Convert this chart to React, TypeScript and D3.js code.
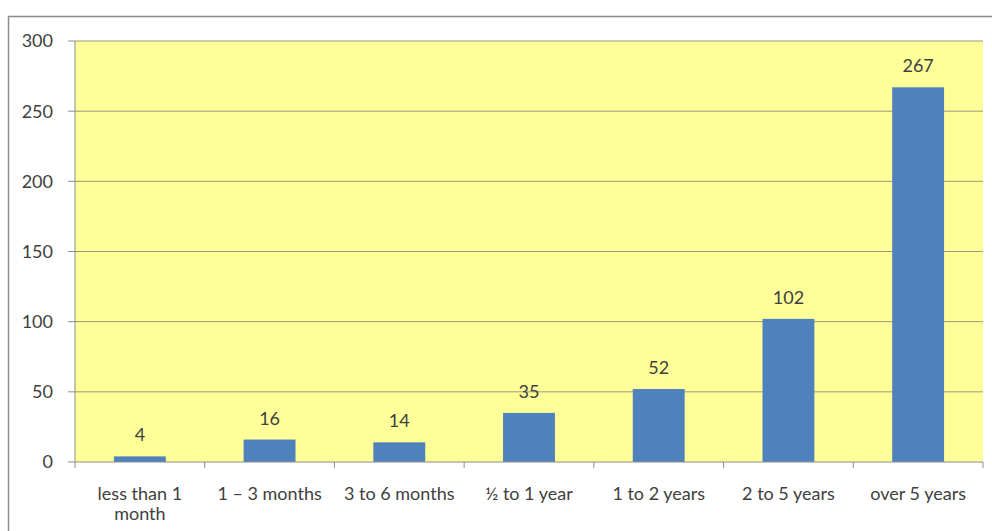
import React from "react";
import * as d3 from "d3";

const categories: string[][] = [
  ["less than 1", "month"],
  ["1 – 3 months"],
  ["3 to 6 months"],
  ["½ to 1 year"],
  ["1 to 2 years"],
  ["2 to 5 years"],
  ["over 5 years"],
];
const values: number[] = [4, 16, 14, 35, 52, 102, 267];
const yTicks: number[] = [0, 50, 100, 150, 200, 250, 300];

const W = 992;
const H = 531;
const plot = { left: 75, right: 983, top: 41, bottom: 462 };
const FONT = "Lato, 'Open Sans', sans-serif";
const TEXT = "#404040";

export default function App() {
  const keys = categories.map((_, i) => String(i));
  const x = d3.scaleBand<string>().domain(keys).range([plot.left, plot.right]).paddingInner(0.6).paddingOuter(0.3);
  const xb = d3.scaleBand<string>().domain(keys).range([plot.left, plot.right]);
  const y = d3.scaleLinear().domain([0, 300]).range([plot.bottom, plot.top]);
  const step = xb.step();

  return (
    <div style={{ position: "absolute", left: 0, top: 0, width: W, height: H, background: "#fff" }}>
      <svg width={W} height={H} style={{ display: "block" }} fontFamily={FONT}>
        <rect x={8.5} y={16.5} width={990} height={520} fill="#fff" stroke="#8c8c8c" strokeWidth={1.5} />
        <rect x={plot.left} y={plot.top} width={plot.right - plot.left} height={plot.bottom - plot.top} fill="#FFFF99" />
        {yTicks.map((t) => (
          <g key={t}>
            {t > 0 && (
              <line x1={plot.left} x2={plot.right} y1={y(t)} y2={y(t)} stroke="#9a9a78" strokeWidth={1} />
            )}
            <line x1={plot.left - 7} x2={plot.left} y1={y(t)} y2={y(t)} stroke="#8c8c8c" strokeWidth={1} />
            <text x={53} y={y(t)} dy="0.36em" textAnchor="end" fontSize={18} fill={TEXT}>
              {t}
            </text>
          </g>
        ))}
        <line x1={plot.left} x2={plot.left} y1={plot.top} y2={plot.bottom} stroke="#8c8c8c" />
        {values.map((v, i) => (
          <g key={i}>
            <rect x={x(String(i))} y={y(v)} width={x.bandwidth()} height={plot.bottom - y(v)} fill="#4F81BD" />
            <text
              x={(x(String(i)) as number) + x.bandwidth() / 2}
              y={y(v) - 15}
              textAnchor="middle"
              fontSize={18}
              fill={TEXT}
            >
              {v}
            </text>
          </g>
        ))}
        <line x1={plot.left} x2={plot.right} y1={plot.bottom} y2={plot.bottom} stroke="#8c8c8c" />
        {d3.range(keys.length + 1).map((i) => (
          <line
            key={i}
            x1={plot.left + i * step}
            x2={plot.left + i * step}
            y1={plot.bottom}
            y2={plot.bottom + 6}
            stroke="#8c8c8c"
          />
        ))}
        {categories.map((lines, i) => (
          <text
            key={i}
            x={(xb(String(i)) as number) + step / 2}
            y={500}
            textAnchor="middle"
            fontSize={18}
            fill={TEXT}
          >
            {lines.map((l, j) => (
              <tspan key={j} x={(xb(String(i)) as number) + step / 2} dy={j === 0 ? 0 : 20}>
                {l}
              </tspan>
            ))}
          </text>
        ))}
      </svg>
    </div>
  );
}
